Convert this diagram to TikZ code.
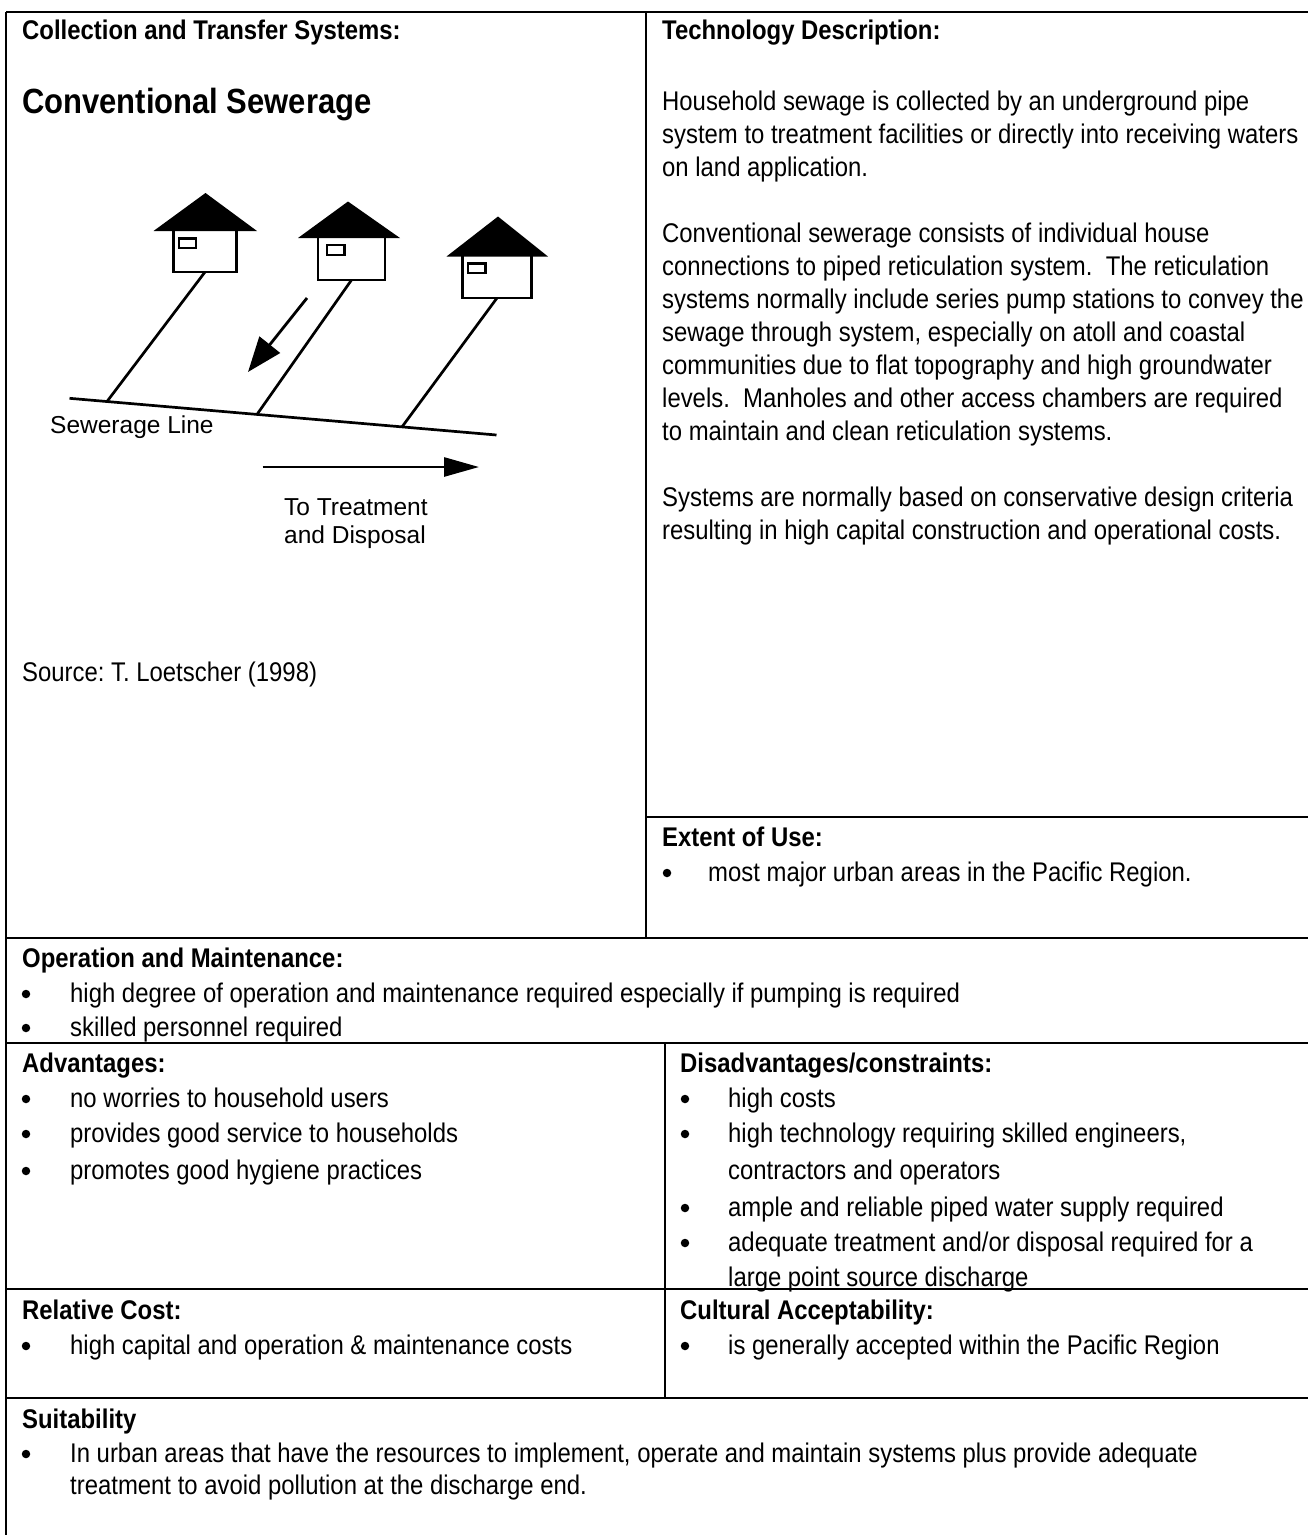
\documentclass[tikz,border=0pt]{standalone}
\usepackage{fontspec}
\setmainfont{Liberation Sans}[FakeStretch=0.885]
\newfontfamily\scanfont{Liberation Sans}
\usetikzlibrary{arrows.meta}
\frenchspacing

\begin{document}
\begin{tikzpicture}[x=1pt,y=-1pt]{
    \def\lx{22}
    \def\rx{662}
    \def\bx{70}
    \newcounter{ln}
    \tikzstyle{body}=[anchor=base west, inner sep=0pt, font=\fontsize{27}{33}\selectfont]
    \tikzstyle{head}=[body, font=\fontsize{27}{33}\selectfont\bfseries]
    \tikzstyle{dot}=[circle, fill=black, inner sep=0pt, minimum size=8.5pt]
    \tikzstyle{rule}=[line width=2.2pt]
    \useasboundingbox (0,0) rectangle (1308,1535);

    % table rules
    \draw [rule] (6,12) -- (1308,12);
    \draw [rule] (6,12) -- (6,1535);
    \draw [rule] (646,12) -- (646,938);
    \draw [rule] (646,817) -- (1308,817);
    \draw [rule] (6,938) -- (1308,938);
    \draw [rule] (6,1043) -- (1308,1043);
    \draw [rule] (665,1043) -- (665,1398);
    \draw [rule] (6,1289) -- (1308,1289);
    \draw [rule] (6,1398) -- (1308,1398);

    % left column
    \stepcounter{ln}\node[head] (\arabic{ln}) at (\lx,39) {Collection and Transfer Systems:};
    \stepcounter{ln}\node[head, font=\fontsize{35}{41}\selectfont\bfseries] (\arabic{ln}) at (\lx,113) {Conventional Sewerage};
    \stepcounter{ln}\node[body] (\arabic{ln}) at (\lx,681) {Source: T. Loetscher (1998)};

    % sketch: houses, pipes, sewer
    \tikzstyle{house}=[draw, line width=2.6pt, inner sep=0pt, outer sep=0pt]
    \tikzstyle{pipe}=[line width=2.7pt]
    \tikzstyle{flow}=[line width=2.8pt, -{Triangle[length=35pt,width=26pt]}]
    \tikzstyle{scan}=[anchor=base west, inner sep=0pt, font=\scanfont\fontsize{24.5}{28}\selectfont]

    \node[house, minimum width=63pt, minimum height=42pt] (h1) at (205,251) {};
    \node[house, minimum width=67pt, minimum height=43pt] (h2) at (351.5,258.5) {};
    \node[house, minimum width=69pt, minimum height=43pt] (h3) at (497,276.5) {};
    \fill (153.5,231) -- (205.5,193) -- (257,231) -- cycle;
    \fill (298,238) -- (348,201.5) -- (400,238) -- cycle;
    \fill (446.5,256.5) -- (498,216.5) -- (548,256.5) -- cycle;
    \draw [line width=2.2pt] (179,238.5) rectangle (196,248);
    \draw [line width=2.2pt] (327,245) rectangle (344.5,255);
    \draw [line width=2.2pt] (468,263.5) rectangle (485.5,273);

    \coordinate (s0) at (69.5,398.3);
    \coordinate (s1) at (496.5,435);
    \coordinate (j1) at (107,401.5);
    \coordinate (j2) at (257,414.4);
    \coordinate (j3) at (402,426.9);
    \draw [pipe] (s0) -- (s1);
    \draw [pipe] (h1.south) -- (j1);
    \draw [pipe] (h2.south) -- (j2);
    \draw [pipe] (h3.south) -- (j3);

    \coordinate (a0) at (307,298);
    \coordinate (a1) at (248,372);
    \coordinate (b0) at (262.5,467);
    \coordinate (b1) at (479,467);
    \draw [flow] (a0) -- (a1);
    \draw [flow, -{Triangle[length=35pt,width=19pt]}] (b0) -- (b1);

    \stepcounter{ln}\node[scan] (\arabic{ln}) at (50,433) {Sewerage Line};
    \stepcounter{ln}\node[scan] (\arabic{ln}) at (284,515) {To Treatment};
    \stepcounter{ln}\node[scan] (\arabic{ln}) at (284,543) {and Disposal};

    % right column
    \stepcounter{ln}\node[head] (\arabic{ln}) at (\rx,39) {Technology Description:};
    \stepcounter{ln}\node[body] (\arabic{ln}) at (\rx,110) {Household sewage is collected by an underground pipe};
    \stepcounter{ln}\node[body] (\arabic{ln}) at (\rx,143) {system to treatment facilities or directly into receiving waters};
    \stepcounter{ln}\node[body] (\arabic{ln}) at (\rx,176) {on land application.};
    \stepcounter{ln}\node[body] (\arabic{ln}) at (\rx,242) {Conventional sewerage consists of individual house};
    \stepcounter{ln}\node[body] (\arabic{ln}) at (\rx,275) {connections to piped reticulation system.\ \ The reticulation};
    \stepcounter{ln}\node[body] (\arabic{ln}) at (\rx,308) {systems normally include series pump stations to convey the};
    \stepcounter{ln}\node[body] (\arabic{ln}) at (\rx,341) {sewage through system, especially on atoll and coastal};
    \stepcounter{ln}\node[body] (\arabic{ln}) at (\rx,374) {communities due to flat topography and high groundwater};
    \stepcounter{ln}\node[body] (\arabic{ln}) at (\rx,407) {levels.\ \ Manholes and other access chambers are required};
    \stepcounter{ln}\node[body] (\arabic{ln}) at (\rx,440) {to maintain and clean reticulation systems.};
    \stepcounter{ln}\node[body] (\arabic{ln}) at (\rx,506) {Systems are normally based on conservative design criteria};
    \stepcounter{ln}\node[body] (\arabic{ln}) at (\rx,539) {resulting in high capital construction and operational costs.};

    \stepcounter{ln}\node[head] (\arabic{ln}) at (\rx,846) {Extent of Use:};
    \stepcounter{ln}\node[dot] (\arabic{ln}) at (667,873) {};
    \stepcounter{ln}\node[body] (\arabic{ln}) at (708,881) {most major urban areas in the Pacific Region.};

    % full width rows
    \stepcounter{ln}\node[head] (\arabic{ln}) at (\lx,967) {Operation and Maintenance:};
    \stepcounter{ln}\node[dot] (\arabic{ln}) at (26,994) {};
    \stepcounter{ln}\node[body] (\arabic{ln}) at (\bx,1002) {high degree of operation and maintenance required especially if pumping is required};
    \stepcounter{ln}\node[dot] (\arabic{ln}) at (26,1028) {};
    \stepcounter{ln}\node[body] (\arabic{ln}) at (\bx,1036) {skilled personnel required};

    \stepcounter{ln}\node[head] (\arabic{ln}) at (\lx,1072) {Advantages:};
    \stepcounter{ln}\node[dot] (\arabic{ln}) at (26,1099) {};
    \stepcounter{ln}\node[body] (\arabic{ln}) at (\bx,1107) {no worries to household users};
    \stepcounter{ln}\node[dot] (\arabic{ln}) at (26,1134) {};
    \stepcounter{ln}\node[body] (\arabic{ln}) at (\bx,1142) {provides good service to households};
    \stepcounter{ln}\node[dot] (\arabic{ln}) at (26,1171) {};
    \stepcounter{ln}\node[body] (\arabic{ln}) at (\bx,1179) {promotes good hygiene practices};

    \stepcounter{ln}\node[head] (\arabic{ln}) at (680,1072) {Disadvantages/constraints:};
    \stepcounter{ln}\node[dot] (\arabic{ln}) at (685,1099) {};
    \stepcounter{ln}\node[body] (\arabic{ln}) at (728,1107) {high costs};
    \stepcounter{ln}\node[dot] (\arabic{ln}) at (685,1134) {};
    \stepcounter{ln}\node[body] (\arabic{ln}) at (728,1142) {high technology requiring skilled engineers,};
    \stepcounter{ln}\node[body] (\arabic{ln}) at (728,1179) {contractors and operators};
    \stepcounter{ln}\node[dot] (\arabic{ln}) at (685,1208) {};
    \stepcounter{ln}\node[body] (\arabic{ln}) at (728,1216) {ample and reliable piped water supply required};
    \stepcounter{ln}\node[dot] (\arabic{ln}) at (685,1243) {};
    \stepcounter{ln}\node[body] (\arabic{ln}) at (728,1251) {adequate treatment and/or disposal required for a};
    \stepcounter{ln}\node[body] (\arabic{ln}) at (728,1286) {large point source discharge};

    \stepcounter{ln}\node[head] (\arabic{ln}) at (\lx,1319) {Relative Cost:};
    \stepcounter{ln}\node[dot] (\arabic{ln}) at (26,1346) {};
    \stepcounter{ln}\node[body] (\arabic{ln}) at (\bx,1354) {high capital and operation \& maintenance costs};
    \stepcounter{ln}\node[head] (\arabic{ln}) at (680,1319) {Cultural Acceptability:};
    \stepcounter{ln}\node[dot] (\arabic{ln}) at (685,1346) {};
    \stepcounter{ln}\node[body] (\arabic{ln}) at (728,1354) {is generally accepted within the Pacific Region};

    \stepcounter{ln}\node[head] (\arabic{ln}) at (\lx,1428) {Suitability};
    \stepcounter{ln}\node[dot] (\arabic{ln}) at (26,1454) {};
    \stepcounter{ln}\node[body] (\arabic{ln}) at (\bx,1462) {In urban areas that have the resources to implement, operate and maintain systems plus provide adequate};
    \stepcounter{ln}\node[body] (\arabic{ln}) at (\bx,1494) {treatment to avoid pollution at the discharge end.};}
\end{tikzpicture}
\end{document}
